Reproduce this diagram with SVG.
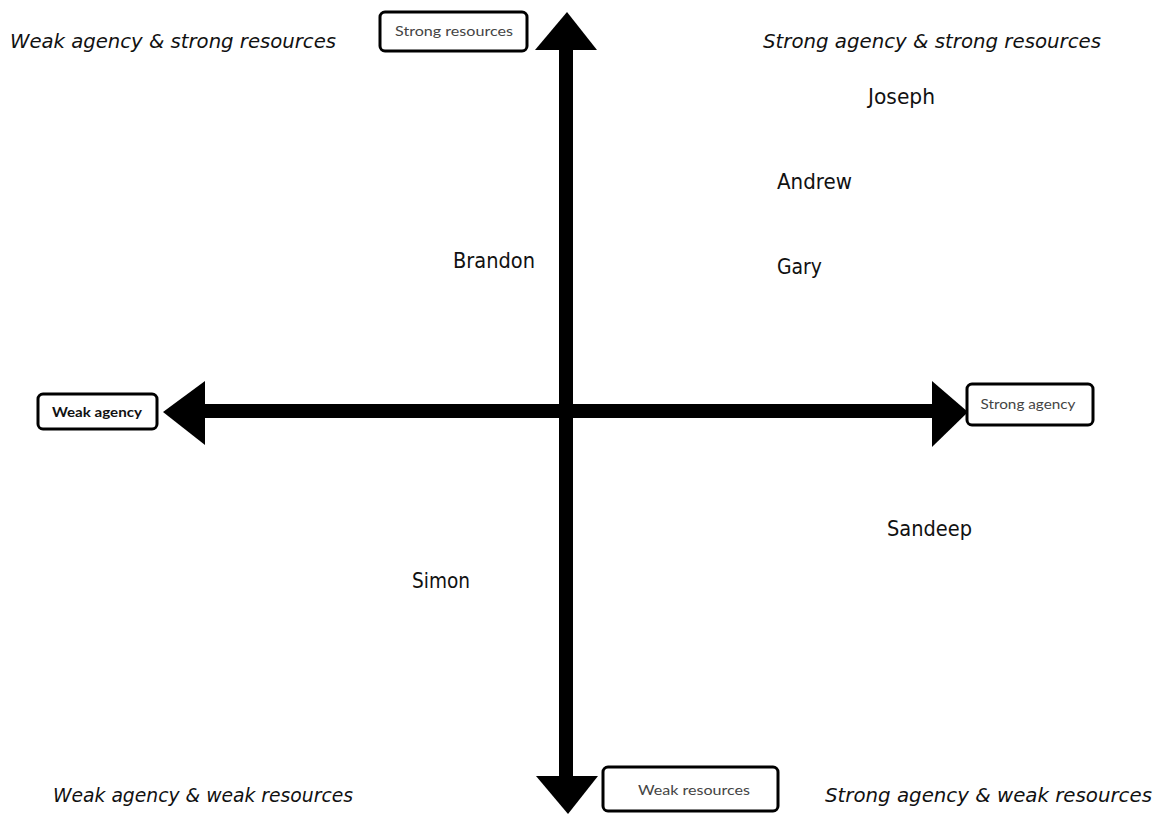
<svg xmlns="http://www.w3.org/2000/svg" width="1165" height="815" viewBox="0 0 1165 815">
  <style>
    .quad { font-family: "DejaVu Sans", "Liberation Sans", sans-serif; font-style: italic; font-size: 20px; fill: #111; }
    .name { font-family: "DejaVu Sans", "Liberation Sans", sans-serif; font-size: 21px; fill: #111; }
    .box { fill: #fff; stroke: #000; stroke-width: 3; }
    .boxlabel { font-family: Lato, "Open Sans", sans-serif; font-size: 13px; fill: #444; text-anchor: middle; }
    .axis { fill: #000; }
  </style>
  <rect width="1165" height="815" fill="#fff"/>

  <!-- axes -->
  <g id="connectors">
    <rect class="axis" x="559" y="46" width="14" height="734"/>
    <polygon class="axis" points="567,12 597,50 535,50"/>
    <polygon class="axis" points="568,814 598,776 536,776"/>
    <rect class="axis" x="200" y="404" width="736" height="14"/>
    <polygon class="axis" points="163,412 205,381 205,445"/>
    <polygon class="axis" points="968,412 932,381 932,447"/>
  </g>

  <!-- axis end labels -->
  <g id="strong-resources">
    <rect class="box" x="380" y="12" width="147" height="39" rx="5"/>
    <text class="boxlabel" x="454" y="36" textLength="118" lengthAdjust="spacingAndGlyphs">Strong resources</text>
  </g>
  <g id="weak-resources">
    <rect class="box" x="603" y="767" width="175" height="44" rx="5"/>
    <text class="boxlabel" x="694" y="795" textLength="112" lengthAdjust="spacingAndGlyphs">Weak resources</text>
  </g>
  <g id="weak-agency">
    <rect class="box" x="38" y="394" width="119" height="35" rx="5"/>
    <text class="boxlabel" x="97" y="417" textLength="90" lengthAdjust="spacingAndGlyphs" style="font-weight:bold;fill:#111">Weak agency</text>
  </g>
  <g id="strong-agency">
    <rect class="box" x="967" y="384" width="126" height="41" rx="5"/>
    <text class="boxlabel" x="1028" y="409" textLength="95" lengthAdjust="spacingAndGlyphs">Strong agency</text>
  </g>

  <!-- quadrant captions -->
  <g id="quadrants">
    <text class="quad" x="10" y="48" textLength="326" lengthAdjust="spacingAndGlyphs">Weak agency &amp; strong resources</text>
    <text class="quad" x="763" y="48" textLength="338" lengthAdjust="spacingAndGlyphs">Strong agency &amp; strong resources</text>
    <text class="quad" x="53" y="802" textLength="300" lengthAdjust="spacingAndGlyphs">Weak agency &amp; weak resources</text>
    <text class="quad" x="825" y="802" textLength="327" lengthAdjust="spacingAndGlyphs">Strong agency &amp; weak resources</text>
  </g>

  <!-- participants -->
  <g id="joseph"><text class="name" x="868" y="104" textLength="67" lengthAdjust="spacingAndGlyphs">Joseph</text></g>
  <g id="andrew"><text class="name" x="777" y="189" textLength="75" lengthAdjust="spacingAndGlyphs">Andrew</text></g>
  <g id="gary"><text class="name" x="777" y="274" textLength="45" lengthAdjust="spacingAndGlyphs">Gary</text></g>
  <g id="brandon"><text class="name" x="453" y="268" textLength="82" lengthAdjust="spacingAndGlyphs">Brandon</text></g>
  <g id="sandeep"><text class="name" x="887" y="536" textLength="85" lengthAdjust="spacingAndGlyphs">Sandeep</text></g>
  <g id="simon"><text class="name" x="412" y="588" textLength="58" lengthAdjust="spacingAndGlyphs">Simon</text></g>
</svg>
